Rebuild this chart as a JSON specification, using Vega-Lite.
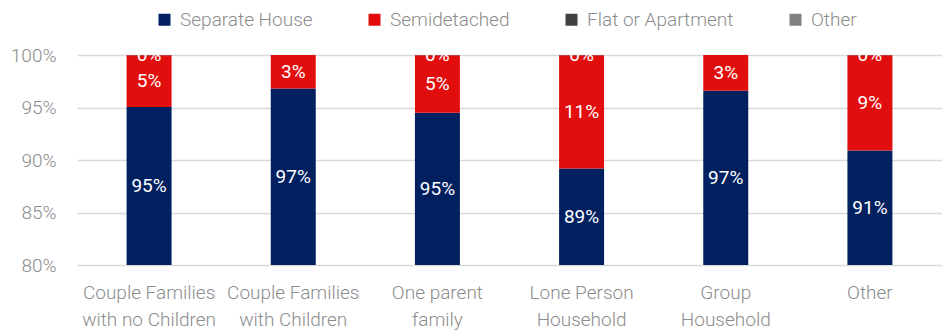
{
  "$schema": "https://vega.github.io/schema/vega-lite/v6.json",
  "width": 865,
  "height": 210,
  "autosize": "none",
  "padding": {"left": 77, "top": 55, "right": 0, "bottom": 68},
  "background": "white",
  "config": {
    "view": {"stroke": null},
    "font": "Roboto",
    "axis": {"labelFont": "Roboto", "labelFontWeight": 300, "labelColor": "#8c8c8c", "labelFontSize": 19}
  },
  "data": {
    "values": [
      {"cat": "Couple Families|with no Children", "type": "Separate House", "o": 0, "v": 0.9505},
      {"cat": "Couple Families|with no Children", "type": "Semidetached", "o": 1, "v": 0.0493},
      {"cat": "Couple Families|with no Children", "type": "Flat or Apartment", "o": 2, "v": 0.0002},
      {"cat": "Couple Families|with no Children", "type": "Other", "o": 3, "v": 0},
      {"cat": "Couple Families|with Children", "type": "Separate House", "o": 0, "v": 0.968},
      {"cat": "Couple Families|with Children", "type": "Semidetached", "o": 1, "v": 0.032},
      {"cat": "Couple Families|with Children", "type": "Flat or Apartment", "o": 2, "v": 0},
      {"cat": "Couple Families|with Children", "type": "Other", "o": 3, "v": 0},
      {"cat": "One parent|family", "type": "Separate House", "o": 0, "v": 0.945},
      {"cat": "One parent|family", "type": "Semidetached", "o": 1, "v": 0.0548},
      {"cat": "One parent|family", "type": "Flat or Apartment", "o": 2, "v": 0.0002},
      {"cat": "One parent|family", "type": "Other", "o": 3, "v": 0},
      {"cat": "Lone Person|Household", "type": "Separate House", "o": 0, "v": 0.892},
      {"cat": "Lone Person|Household", "type": "Semidetached", "o": 1, "v": 0.1078},
      {"cat": "Lone Person|Household", "type": "Flat or Apartment", "o": 2, "v": 0.0002},
      {"cat": "Lone Person|Household", "type": "Other", "o": 3, "v": 0},
      {"cat": "Group|Household", "type": "Separate House", "o": 0, "v": 0.966},
      {"cat": "Group|Household", "type": "Semidetached", "o": 1, "v": 0.034},
      {"cat": "Group|Household", "type": "Flat or Apartment", "o": 2, "v": 0},
      {"cat": "Group|Household", "type": "Other", "o": 3, "v": 0},
      {"cat": "Other", "type": "Separate House", "o": 0, "v": 0.909},
      {"cat": "Other", "type": "Semidetached", "o": 1, "v": 0.0908},
      {"cat": "Other", "type": "Flat or Apartment", "o": 2, "v": 0.0002},
      {"cat": "Other", "type": "Other", "o": 3, "v": 0}
    ]
  },
  "transform": [
    {"stack": "v", "groupby": ["cat"], "sort": [{"field": "o", "order": "ascending"}], "as": ["y0", "y1"]},
    {"calculate": "(max(datum.y0, 0.8) + datum.y1) / 2", "as": "ym"}
  ],
  "encoding": {
    "x": {
      "field": "cat", "type": "nominal", "sort": null,
      "scale": {"paddingInner": 0.688, "paddingOuter": 0.344},
      "axis": {"title": null, "labelAngle": 0, "labelExpr": "split(datum.label, '|')", "labelLineHeight": 27, "labelPadding": 18, "ticks": false, "domain": false, "grid": false, "labelBaseline": "top"}
    }
  },
  "layer": [
    {
      "mark": {"type": "bar", "clip": true},
      "encoding": {
        "y": {
          "field": "y0", "type": "quantitative",
          "scale": {"domain": [0.8, 1], "clamp": true, "nice": false, "zero": false},
          "axis": {"title": null, "format": ".0%", "values": [0.8, 0.85, 0.9, 0.95, 1], "tickCount": 5, "domain": false, "ticks": false, "labelPadding": 21, "gridColor": "#d9d9d9", "gridWidth": 1.5}
        },
        "y2": {"field": "y1"},
        "color": {
          "field": "type", "type": "nominal",
          "scale": {"domain": ["Separate House", "Semidetached", "Flat or Apartment", "Other"], "range": ["#002060", "#e20e0e", "#404040", "#808080"]},
          "legend": {
            "title": null, "orient": "none", "direction": "horizontal", "legendX": 78, "legendY": -45,
            "symbolType": "square", "symbolSize": 144, "symbolStrokeWidth": 0,
            "labelFont": "Roboto", "labelFontWeight": 300, "labelFontSize": 19, "labelColor": "#8c8c8c",
            "labelOffset": 6, "columnPadding": 52, "labelLimit": 300
          }
        },
        "order": {"field": "o"}
      }
    },
    {
      "transform": [{"filter": "datum.v > 0"}],
      "mark": {"type": "text", "clip": true, "color": "white", "fontSize": 19, "font": "Roboto", "baseline": "middle", "align": "center"},
      "encoding": {
        "y": {"field": "ym", "type": "quantitative"},
        "text": {"field": "v", "type": "quantitative", "format": ".0%"}
      }
    }
  ]
}
